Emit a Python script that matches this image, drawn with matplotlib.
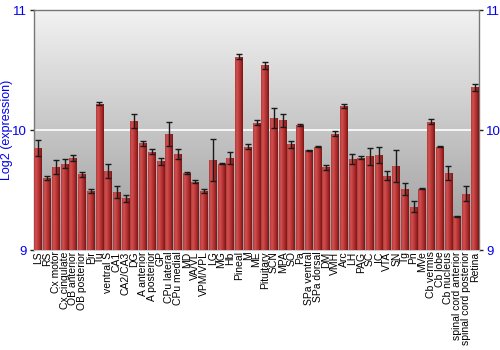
import numpy as np
import matplotlib
matplotlib.use("Agg")
import matplotlib.pyplot as plt
from matplotlib.colors import LinearSegmentedColormap

regions = ["LS", "RS", "Cx motor", "Cx cingulate", "OB anterior", "OB posterior", "Pir", "Tu",
           "ventral S", "CA1", "CA2/CA3", "DG", "A anterior", "A posterior", "GP", "CPu lateral",
           "CPu medial", "MD", "VA/VL", "VPM/VPL", "LG", "MG", "Hb", "Pineal", "M", "ME",
           "Pituitary", "SCN", "MPA", "SO", "Pa", "SPa ventral", "SPa dorsal", "DM", "VMH",
           "Arc", "LH", "PAG", "SC", "IC", "VTA", "SN", "Tg", "Pn", "MVe", "Cb vermis",
           "Cb lobe", "Cb nucleus", "spinal cord anterior", "spinal cord posterior", "Retina"]

values = [9.85, 9.60, 9.69, 9.72, 9.77, 9.63, 9.49, 10.22,
          9.66, 9.48, 9.43, 10.075, 9.89, 9.82, 9.74, 9.97,
          9.80, 9.64, 9.57, 9.49, 9.75, 9.72, 9.77, 10.61, 9.86, 10.06,
          10.54, 10.10, 10.08, 9.88, 10.04, 9.83, 9.86, 9.69, 9.97,
          10.20, 9.76, 9.77, 9.78, 9.79, 9.62, 9.70, 9.51, 9.36, 9.51, 10.07,
          9.86, 9.64, 9.28, 9.47, 10.355]

errors = [0.065, 0.02, 0.06, 0.04, 0.025, 0.02, 0.015, 0.01,
          0.06, 0.05, 0.03, 0.055, 0.02, 0.02, 0.03, 0.10,
          0.04, 0.01, 0.01, 0.015, 0.175, 0.005, 0.05, 0.02, 0.02, 0.02,
          0.03, 0.08, 0.055, 0.03, 0.01, 0.005, 0.005, 0.02, 0.02,
          0.015, 0.04, 0.015, 0.07, 0.065, 0.04, 0.135, 0.05, 0.045, 0.005, 0.02,
          0.005, 0.06, 0.005, 0.06, 0.03]

yticks = [9, 10, 11]

plt.rcParams['font.family'] = ['Liberation Sans', 'DejaVu Sans']

fig = plt.figure(figsize=(5, 3.5), dpi=100)
ax = fig.add_axes([0.068, 0.2857, 0.89, 0.6857])

x = np.arange(len(regions))
ax.set_xlim(-0.5, len(regions) - 0.5)
ax.set_ylim(9, 11)

# background gradient
bg = np.linspace(0, 1, 256).reshape(-1, 1)
bg_cmap = LinearSegmentedColormap.from_list("bg", ["#999999", "#f2f2f2"])
ax.imshow(bg, extent=[0, 1, 0, 1], transform=ax.transAxes, aspect='auto',
          cmap=bg_cmap, origin='lower', zorder=0)

ax.axhline(10, color='white', lw=1.2, zorder=1)

bars = ax.bar(x, [v - 9 for v in values], bottom=9, width=0.9, color='#b83232',
              edgecolor='none', zorder=2)

bar_cmap = LinearSegmentedColormap.from_list(
    "bar", ["#b03a3a", "#d05252", "#c03a3a", "#a52828", "#7a1616"])
grad = np.linspace(0, 1, 64).reshape(1, -1)
for b in bars:
    x0 = b.get_x()
    w = b.get_width()
    y0 = b.get_y()
    h = b.get_height()
    im = ax.imshow(grad, extent=[x0, x0 + w, y0, y0 + h], aspect='auto',
                   cmap=bar_cmap, zorder=3)
    im.set_clip_path(b)

ax.errorbar(x, values, yerr=errors, fmt='none', ecolor='#1a1a1a', elinewidth=1,
            capsize=2.5, capthick=1, zorder=4)

ax.set_xticks(x)
ax.set_xticklabels(regions, rotation=90, fontsize=7.5)
ax.tick_params(axis='x', length=0, pad=1)

ax.set_yticks(yticks)
ax.tick_params(axis='y', colors='#222222', labelcolor='#0000ee', labelsize=9.5,
               length=3, width=1, right=True, labelright=True, direction='out', pad=2)
ax.set_ylabel("Log2 (expression)", color='#0000ee', fontsize=9)
ax.yaxis.set_label_coords(-0.047, 0.5)

for s in ['left', 'right', 'top']:
    ax.spines[s].set_color('#777777')
    ax.spines[s].set_linewidth(1)
ax.spines['bottom'].set_color('#cccccc')
ax.spines['bottom'].set_linewidth(0.8)

fig.savefig("out.png", dpi=100)
